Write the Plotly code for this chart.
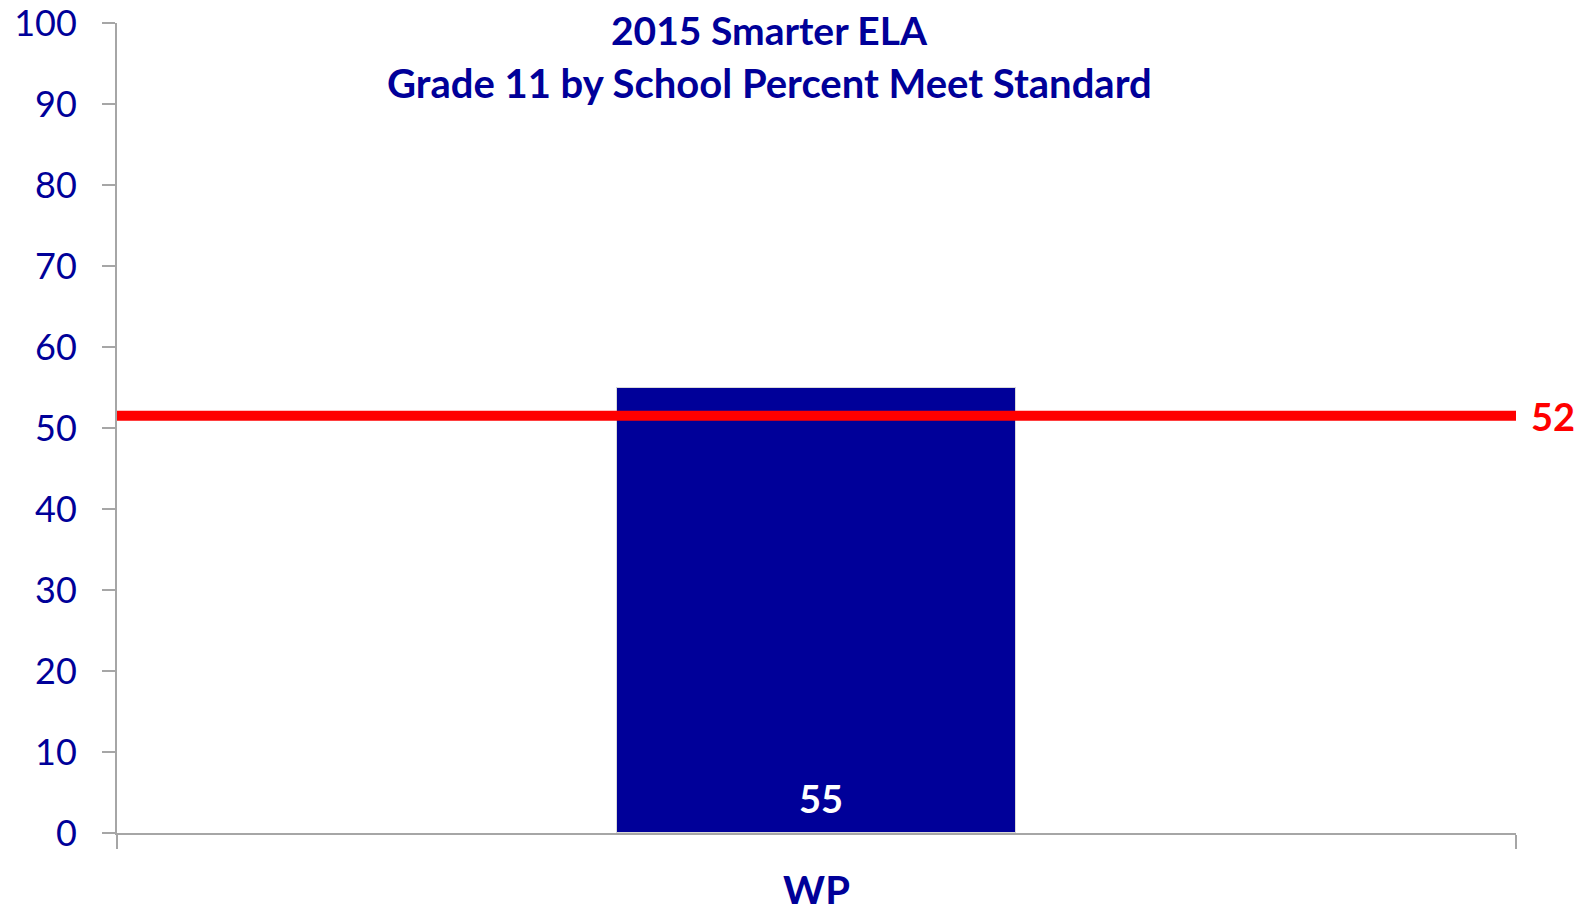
import plotly.graph_objects as go

# ---- data ----
categories = ["WP"]
percent_meet = [55]
state_average = [51.5]
state_label = [f"{round(v)}" for v in state_average]
title_lines = ["2015 Smarter ELA", "Grade 11 by School Percent Meet Standard"]
y_ticks = list(range(0, 101, 10))

NAVY = "#000099"
AXIS_GRAY = "#A6A6A6"
FONT = "Lato"

fig = go.Figure()
fig.add_trace(go.Bar(
    x=categories,
    y=percent_meet,
    width=0.285,
    marker=dict(color=NAVY, line=dict(color="#D9D9D9", width=1)),
    hoverinfo="x+y",
    showlegend=False,
))

# value labels at the base of each bar
for c, v in zip(categories, percent_meet):
    fig.add_annotation(x=c, y=0, text=str(v), showarrow=False,
                       xanchor="center", yanchor="middle", yshift=35, xshift=4,
                       font=dict(family=FONT, size=38, color="white", weight="bold"))

# State average line
for v, lab in zip(state_average, state_label):
    fig.add_shape(type="line", xref="paper", x0=0, x1=1, yref="y", y0=v, y1=v,
                  line=dict(color="#FF0000", width=10), layer="above")
    fig.add_annotation(xref="paper", x=1, yref="y", y=v, text=lab, showarrow=False,
                       xanchor="left", yanchor="middle", xshift=13,
                       font=dict(family=FONT, size=38, color="#FF0000", weight="bold"))

# Title lines
for txt, yy, sz in zip(title_lines, [0.9914, 0.9259], [39, 40]):
    fig.add_annotation(xref="paper", yref="paper", x=0.4664, y=yy, text=txt,
                       showarrow=False, xanchor="center", yanchor="middle",
                       font=dict(family=FONT, size=sz, color=NAVY, weight="bold"))

# page body has an 8px margin, so the figure is sized/offset to compensate
fig.update_layout(
    width=1577, height=896,
    paper_bgcolor="white", plot_bgcolor="white",
    margin=dict(l=109, r=69, t=15, b=71),
    bargap=0,
)
fig.update_yaxes(
    range=[0, 100], tickvals=y_ticks, showgrid=False, zeroline=False,
    showline=True, linecolor=AXIS_GRAY, linewidth=2,
    ticks="outside", ticklen=13, tickwidth=2, tickcolor=AXIS_GRAY,
    tickfont=dict(family=FONT, size=36, color=NAVY),
    ticklabelstandoff=18, automargin=False, ticklabeloverflow="allow",
)
fig.update_xaxes(
    type="category", range=[-0.5, 0.5], showgrid=False, zeroline=False,
    showline=True, linecolor=AXIS_GRAY, linewidth=2,
    ticks="outside", tickson="boundaries", ticklen=14, tickwidth=2, tickcolor=AXIS_GRAY,
    tickfont=dict(family=FONT, size=40, color=NAVY, weight="bold"),
    ticklabelstandoff=22, automargin=False, ticklabeloverflow="allow",
)

fig.write_html("out.html")
